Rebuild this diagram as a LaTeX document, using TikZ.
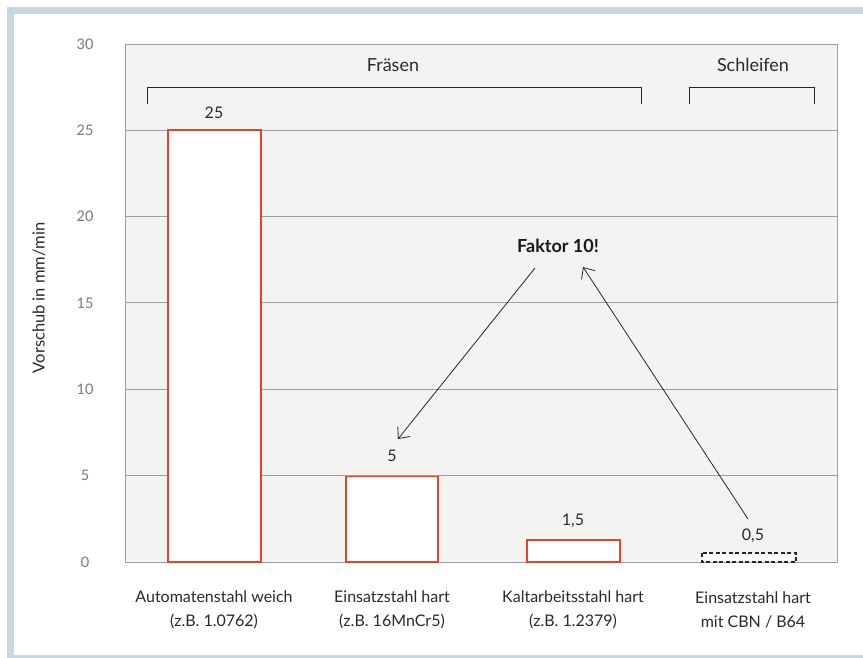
\documentclass[tikz,border=0pt]{standalone}
\usepackage{fontspec}
\setmainfont{Lato}
\usetikzlibrary{arrows.meta}
\definecolor{frameblue}{HTML}{C6D9E3}
\definecolor{plotbg}{HTML}{F3F3F2}
\definecolor{gridgray}{HTML}{9A9FA4}
\definecolor{barred}{HTML}{E8412C}
\definecolor{ticktext}{HTML}{7A7A7A}
\definecolor{labeltext}{HTML}{2A2A2A}
\tikzset{
  tick/.style={text=ticktext, font=\fontsize{14.5}{17}\selectfont, anchor=center},
  vallabel/.style={text=labeltext, font=\fontsize{16}{19}\selectfont, anchor=center},
  catlabel/.style={text=labeltext, font=\fontsize{16}{24}\selectfont, align=center, anchor=center},
  grplabel/.style={text=labeltext, font=\fontsize{18}{21}\selectfont, anchor=center},
  barbox/.style={draw=barred, fill=white, line width=1.6pt},
  gridline/.style={draw=gridgray, line width=1pt},
  bracketline/.style={draw=black!85, line width=1pt},
  arrowline/.style={draw=black!85, line width=0.8pt, -{Straight Barb[length=9pt,width=16pt]}}
}
\begin{document}
\begin{tikzpicture}[x=1pt,y=-1pt]
\useasboundingbox (0,0) rectangle (863,657);
\fill[white] (0,0) rectangle (863,657);
\fill[frameblue] (7,7) rectangle (870,664);
\fill[white] (14,14) rectangle (870,655);
% plot area
\fill[plotbg] (125,44) rectangle (837,562);
\foreach \v [evaluate=\v as \yy using 562-\v*17.27] in {5,10,15,20,25} {
  \draw[gridline] (125,\yy) -- (837,\yy);
}
\draw[gridline] (125,44) rectangle (837,562);
% ticks
\foreach \v [evaluate=\v as \yy using 562-\v*17.27] in {0,5,10,15,20,25,30} {
  \node[tick] (t\v) at (85,\yy) {\v};
}
% y label
\node[text=labeltext, font=\fontsize{16.5}{19}\selectfont, rotate=90] (ylab) at (39,298) {Vorschub in mm/min};
% bars
\draw[barbox] (168,130) rectangle (261,562);
\draw[barbox] (346,476.5) rectangle (438,562);
\draw[barbox] (527,540) rectangle (620,562);
\draw[draw=black!85, fill=white, line width=1.2pt, dash pattern=on 4pt off 2.5pt] (702,553) rectangle (796,562);
% value labels
\node[vallabel] (v1) at (214,113) {25};
\node[vallabel] (v2) at (392,456) {5};
\node[vallabel] (v3) at (573,521) {1,5};
\node[vallabel] (v4) at (753,536) {0,5};
% categories
\node[catlabel] (c1) at (214,610) {Automatenstahl weich\\(z.B. 1.0762)};
\node[catlabel] (c2) at (392,610) {Einsatzstahl hart\\(z.B. 16MnCr5)};
\node[catlabel] (c3) at (573,610) {Kaltarbeitsstahl hart\\(z.B. 1.2379)};
\node[catlabel] (c4) at (753,610) {Einsatzstahl hart\\mit CBN / B64};
% groups
\draw[bracketline] (147,104) -- (147,87.5) -- (641,87.5) -- (641,104);
\draw[bracketline] (689,104) -- (689,87.5) -- (814,87.5) -- (814,104);
\node[grplabel] (g1) at (393,65) {Fräsen};
\node[grplabel] (g2) at (753,65) {Schleifen};
% Faktor
\node[text=black!90, font=\bfseries\fontsize{18}{21}\selectfont] (fak) at (558,246) {Faktor 10!};
\coordinate (a1s) at (535,268);
\coordinate (a1e) at (398,439);
\coordinate (a2s) at (748,519);
\coordinate (a2e) at (583,267);
\draw[arrowline] (a1s) -- (a1e);
\draw[arrowline] (a2s) -- (a2e);
\end{tikzpicture}
\end{document}
